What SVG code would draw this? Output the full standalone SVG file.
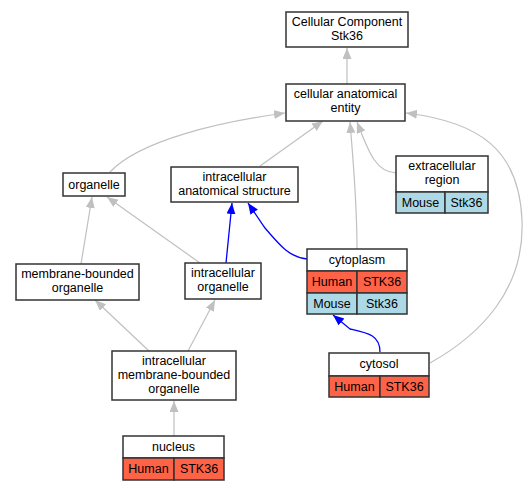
<svg xmlns="http://www.w3.org/2000/svg" width="530" height="491" viewBox="0 0 530 491">
<style>
.box{fill:#fff;stroke:#333;stroke-width:1.5}
.hu{fill:#ff6347;stroke:#333;stroke-width:1.5}
.mo{fill:#add8e6;stroke:#333;stroke-width:1.5}
text{font-family:"Liberation Sans",Arial,sans-serif;font-size:12.5px;fill:#000;text-anchor:middle}
.g{fill:none;stroke:#c0c0c0;stroke-width:1.2}
.b{fill:none;stroke:#0000ff;stroke-width:1.3}
</style>
<defs>
<marker id="ag" markerUnits="userSpaceOnUse" markerWidth="12" markerHeight="10" refX="11" refY="4.5" orient="auto"><path d="M0,0 L11,4.5 L0,9 z" fill="#c0c0c0"/></marker>
<marker id="ab" markerUnits="userSpaceOnUse" markerWidth="12" markerHeight="10" refX="11" refY="4.5" orient="auto"><path d="M0,0 L11,4.5 L0,9 z" fill="#0000ff"/></marker>
</defs>
<rect width="530" height="491" fill="#fff"/>
<g id="edges">
<path class="g" marker-end="url(#ag)" d="M347,84 L347,48"/>
<path class="g" marker-end="url(#ag)" d="M110,172 C140,140 220,122 285,113"/>
<path class="g" marker-end="url(#ag)" d="M260,166 L323,121"/>
<path class="g" marker-end="url(#ag)" d="M357,249 C357,200 353,160 350,122"/>
<path class="g" marker-end="url(#ag)" d="M396,173 C375,172 368,150 357,122"/>
<path class="g" marker-end="url(#ag)" d="M430,363 C480,335 525,290 522,220 C519,150 480,122 406,113"/>
<path class="g" marker-end="url(#ag)" d="M81,264 L92,197"/>
<path class="g" marker-end="url(#ag)" d="M200,263 L107,197"/>
<path class="b" marker-end="url(#ab)" d="M226,263 L232,203"/>
<path class="b" marker-end="url(#ab)" d="M307,259 C290,257 282,248 265,228 L248,203"/>
<path class="g" marker-end="url(#ag)" d="M149,351 L95,300"/>
<path class="g" marker-end="url(#ag)" d="M188,351 L215,300"/>
<path class="g" marker-end="url(#ag)" d="M174,436 L174,401"/>
<path class="b" marker-end="url(#ab)" d="M380,352 C380,335 368,333 350,329 L333,315"/>
</g>
<g id="n_cc">
<rect class="box" x="286" y="12" width="122" height="35"/>
<text x="347" y="26">Cellular Component</text>
<text x="347" y="40">Stk36</text>
</g>
<g id="n_cae">
<rect class="box" x="286" y="84" width="119" height="37"/>
<text x="345.5" y="98">cellular anatomical</text>
<text x="345.5" y="112">entity</text>
</g>
<g id="n_organelle">
<rect class="box" x="63" y="173" width="62" height="23"/>
<text x="94" y="189">organelle</text>
</g>
<g id="n_ias">
<rect class="box" x="171" y="167" width="127" height="35"/>
<text x="234.5" y="181">intracellular</text>
<text x="234.5" y="195">anatomical structure</text>
</g>
<g id="n_er">
<rect class="box" x="396" y="156" width="92" height="36"/>
<text x="442" y="170">extracellular</text>
<text x="442" y="184">region</text>
<rect class="mo" x="396" y="192" width="49" height="21"/>
<rect class="mo" x="445" y="192" width="43" height="21"/>
<text x="420.5" y="207">Mouse</text>
<text x="466.5" y="207">Stk36</text>
</g>
<g id="n_mbo">
<rect class="box" x="16" y="264" width="123" height="36"/>
<text x="77.5" y="278">membrane-bounded</text>
<text x="77.5" y="292">organelle</text>
</g>
<g id="n_io">
<rect class="box" x="185" y="263" width="76" height="36"/>
<text x="223" y="277">intracellular</text>
<text x="223" y="291">organelle</text>
</g>
<g id="n_cytoplasm">
<rect class="box" x="307" y="249" width="100" height="22"/>
<text x="357" y="264">cytoplasm</text>
<rect class="hu" x="307" y="271" width="50" height="22"/>
<rect class="hu" x="357" y="271" width="50" height="22"/>
<text x="332" y="286">Human</text>
<text x="382" y="286">STK36</text>
<rect class="mo" x="307" y="293" width="50" height="21"/>
<rect class="mo" x="357" y="293" width="50" height="21"/>
<text x="332" y="308">Mouse</text>
<text x="382" y="308">Stk36</text>
</g>
<g id="n_imbo">
<rect class="box" x="112" y="351" width="124" height="49"/>
<text x="174" y="365">intracellular</text>
<text x="174" y="379">membrane-bounded</text>
<text x="174" y="393">organelle</text>
</g>
<g id="n_cytosol">
<rect class="box" x="329" y="353" width="100" height="23"/>
<text x="379" y="368">cytosol</text>
<rect class="hu" x="329" y="376" width="51" height="21"/>
<rect class="hu" x="380" y="376" width="49" height="21"/>
<text x="354.5" y="391">Human</text>
<text x="404.5" y="391">STK36</text>
</g>
<g id="n_nucleus">
<rect class="box" x="123" y="436" width="101" height="22"/>
<text x="173.5" y="451">nucleus</text>
<rect class="hu" x="123" y="458" width="51" height="22"/>
<rect class="hu" x="174" y="458" width="50" height="22"/>
<text x="148.5" y="473">Human</text>
<text x="199" y="473">STK36</text>
</g>
</svg>
